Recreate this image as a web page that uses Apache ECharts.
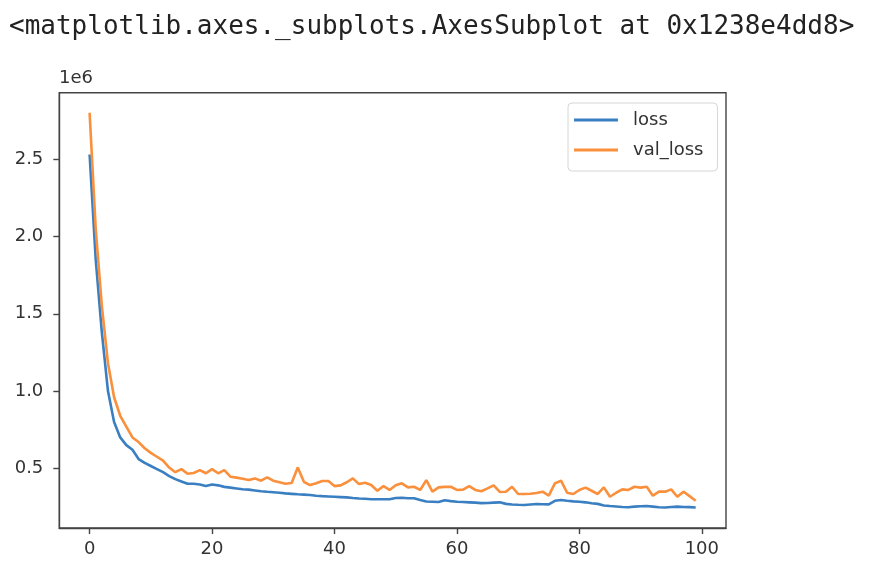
<!DOCTYPE html>
<html>
<head>
<meta charset="utf-8">
<script src="https://cdn.jsdelivr.net/npm/echarts@6/dist/echarts.min.js"></script>
<style>
html,body{margin:0;padding:0;background:#fff;}
#chart{width:870px;height:578px;}
</style>
</head>
<body>
<div id="chart"></div>
<script>
const headerText = '<matplotlib.axes._subplots.AxesSubplot at 0x1238e4dd8>';
const offsetText = '1e6';
const seriesNames = ['loss', 'val_loss'];
const epochs = Array.from({length: 100}, (_, i) => i);
const loss = [2.53, 1.85, 1.38, 1.00, 0.80, 0.70, 0.65, 0.62, 0.56, 0.535,
  0.515, 0.495, 0.475, 0.45, 0.43, 0.415, 0.40, 0.40, 0.395, 0.385,
  0.395, 0.39, 0.38, 0.375, 0.37, 0.365, 0.362, 0.357, 0.352, 0.348,
  0.345, 0.342, 0.338, 0.335, 0.332, 0.33, 0.327, 0.323, 0.32, 0.318,
  0.316, 0.314, 0.312, 0.308, 0.305, 0.303, 0.30, 0.30, 0.30, 0.30,
  0.308, 0.31, 0.306, 0.306, 0.295, 0.285, 0.284, 0.282, 0.293, 0.288,
  0.284, 0.282, 0.28, 0.278, 0.275, 0.276, 0.278, 0.28, 0.27, 0.266,
  0.264, 0.263, 0.266, 0.269, 0.268, 0.267, 0.29, 0.295, 0.29, 0.286,
  0.284, 0.28, 0.274, 0.27, 0.26, 0.256, 0.253, 0.25, 0.248, 0.252,
  0.255, 0.256, 0.252, 0.248, 0.247, 0.25, 0.252, 0.25, 0.249, 0.247];
const valLoss = [2.80, 2.05, 1.55, 1.18, 0.96, 0.84, 0.77, 0.70, 0.67, 0.63,
  0.60, 0.575, 0.55, 0.505, 0.475, 0.495, 0.465, 0.47, 0.488, 0.468,
  0.495, 0.468, 0.489, 0.446, 0.44, 0.432, 0.424, 0.435, 0.42, 0.442,
  0.42, 0.41, 0.40, 0.405, 0.506, 0.413, 0.392, 0.403, 0.418, 0.418,
  0.385, 0.39, 0.41, 0.435, 0.398, 0.407, 0.392, 0.355, 0.385, 0.36,
  0.39, 0.403, 0.377, 0.381, 0.36, 0.424, 0.349, 0.377, 0.38, 0.381,
  0.36, 0.362, 0.385, 0.36, 0.352, 0.37, 0.39, 0.347, 0.349, 0.381,
  0.334, 0.334, 0.336, 0.34, 0.349, 0.323, 0.403, 0.42, 0.342, 0.334,
  0.36, 0.375, 0.355, 0.334, 0.377, 0.316, 0.342, 0.364, 0.36, 0.381,
  0.375, 0.381, 0.323, 0.349, 0.349, 0.364, 0.316, 0.349, 0.32, 0.29];
const xTicks = [0, 20, 40, 60, 80, 100];
const yTicks = [0.5, 1.0, 1.5, 2.0, 2.5];
const xRange = [-4.95, 103.95];
const yRange = [0.114, 2.93];

const colors = ['#3a7fc1', '#fa8f3c'];
const axisColor = '#444';
const labelFont = {fontFamily: 'DejaVu Sans', fontSize: 18, color: '#333'};

const chart = echarts.init(document.getElementById('chart'), null, {renderer: 'canvas'});
chart.setOption({
  animation: false,
  backgroundColor: '#fff',
  graphic: [
    {type: 'text', left: 9, top: 14, style: {text: headerText, font: '26px "DejaVu Sans Mono"', fill: '#222'}},
    {type: 'text', left: 59, top: 69, style: {text: offsetText, font: '18px "DejaVu Sans"', fill: '#333'}}
  ],
  grid: {left: 59.3, right: 144, top: 92.7, bottom: 50, show: true, borderColor: axisColor, borderWidth: 1.4, backgroundColor: '#fff'},
  legend: {
    orient: 'vertical', left: 568, top: 103,
    data: seriesNames,
    icon: 'rect', itemWidth: 44, itemHeight: 3, itemGap: 12,
    padding: [8, 14, 12, 6],
    borderColor: '#d6d6d6', borderWidth: 1, borderRadius: 4, backgroundColor: '#fff',
    textStyle: Object.assign({}, labelFont, {padding: [0, 0, 0, 10]})
  },
  xAxis: {
    type: 'value', min: xRange[0], max: xRange[1],
    splitLine: {show: false},
    axisLine: {show: true, onZero: false, lineStyle: {color: axisColor, width: 1.4}},
    axisTick: {show: true, length: 6, customValues: xTicks, lineStyle: {color: axisColor, width: 1.4}},
    axisLabel: Object.assign({margin: 12, customValues: xTicks, formatter: v => String(Math.round(v))}, labelFont)
  },
  yAxis: {
    type: 'value', min: yRange[0], max: yRange[1],
    splitLine: {show: false},
    axisLine: {show: true, onZero: false, lineStyle: {color: axisColor, width: 1.4}},
    axisTick: {show: true, length: 6, customValues: yTicks, lineStyle: {color: axisColor, width: 1.4}},
    axisLabel: Object.assign({margin: 16, customValues: yTicks, formatter: v => v.toFixed(1)}, labelFont)
  },
  series: [
    {name: seriesNames[0], type: 'line', data: epochs.map((e, i) => [e, loss[i]]), showSymbol: false, symbol: 'none',
     lineStyle: {color: colors[0], width: 2.6}, itemStyle: {color: colors[0]}},
    {name: seriesNames[1], type: 'line', data: epochs.map((e, i) => [e, valLoss[i]]), showSymbol: false, symbol: 'none',
     lineStyle: {color: colors[1], width: 2.6}, itemStyle: {color: colors[1]}}
  ]
});
</script>
</body>
</html>
